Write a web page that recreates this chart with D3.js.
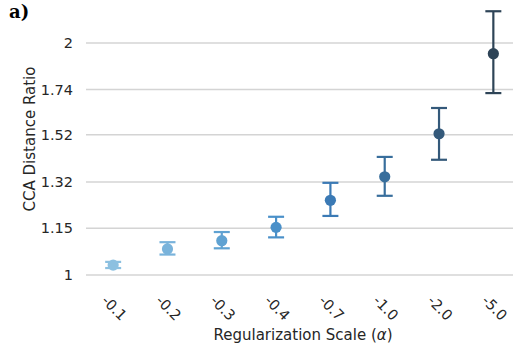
<!DOCTYPE html>
<html>
<head>
<meta charset="utf-8">
<script src="https://cdn.jsdelivr.net/npm/d3@7"></script>
<style>
  body { margin: 0; background: #fff; }
  svg { display: block; font-family: "DejaVu Sans", sans-serif; }
</style>
</head>
<body>
<div id="chart"></div>
<script>
// datos
var categorias = ["-0.1", "-0.2", "-0.3", "-0.4", "-0.7", "-1.0", "-2.0", "-5.0"];
var medias     = [1.030, 1.081, 1.108, 1.153, 1.250, 1.341, 1.525, 1.937];
var inferior   = [1.021, 1.063, 1.083, 1.119, 1.193, 1.267, 1.411, 1.722];
var superior   = [1.040, 1.103, 1.137, 1.190, 1.317, 1.423, 1.647, 2.199];
var colores    = ["#8cc0e0", "#79b3db", "#5fa2d2", "#4a90c9", "#3b7ab5", "#386e9c", "#34597a", "#2e4457"];
var yTicks     = [1, 1.15, 1.32, 1.52, 1.74, 2];

var w = 513, h = 348;
var svg = d3.select("#chart").append("svg")
    .attr("width", w).attr("height", h);

// escalas
var x = d3.scalePoint()
    .domain(categorias)
    .range([86, 520.5])
    .padding(0.5);

var y = d3.scaleLog().base(2)
    .domain([1, 2])
    .range([275, 43]);

// rejilla horizontal
svg.append("g").selectAll("line")
    .data(yTicks).enter().append("line")
    .attr("x1", 86).attr("x2", 520)
    .attr("y1", function(d) { return y(d); })
    .attr("y2", function(d) { return y(d); })
    .attr("stroke", "#d4d4d4")
    .attr("stroke-width", 1.5);

// eje y
var yAxis = svg.append("g")
    .attr("transform", "translate(86,0)")
    .call(d3.axisLeft(y).tickValues(yTicks).tickFormat(function(d) { return String(d); }).tickSize(0).tickPadding(13));
yAxis.select(".domain").remove();
yAxis.selectAll("text")
    .attr("font-size", 14.5)
    .attr("font-family", "DejaVu Sans")
    .attr("fill", "#262626");

// eje x
var xAxis = svg.append("g")
    .attr("transform", "translate(0,283)")
    .call(d3.axisBottom(x).tickSize(0).tickPadding(0));
xAxis.select(".domain").remove();
xAxis.selectAll("text")
    .attr("font-size", 14.5)
    .attr("font-family", "DejaVu Sans")
    .attr("fill", "#262626")
    .attr("y", 0).attr("dy", "0.35em")
    .attr("text-anchor", "middle")
    .attr("transform", "translate(0.7,25) rotate(45)");

// titulos de ejes
svg.append("text")
    .attr("x", 303).attr("y", 340)
    .attr("text-anchor", "middle")
    .attr("font-size", 15)
    .attr("fill", "#262626")
    .html("Regularization Scale (<tspan font-style='italic'>α</tspan>)");

svg.append("text")
    .attr("transform", "translate(35,139) rotate(-90)")
    .attr("text-anchor", "middle")
    .attr("font-size", 15)
    .attr("fill", "#262626")
    .text("CCA Distance Ratio");

// etiqueta del panel
svg.append("text")
    .attr("x", 9).attr("y", 18)
    .attr("font-family", "DejaVu Serif, serif")
    .attr("font-weight", "bold")
    .attr("font-size", 18)
    .attr("fill", "#000")
    .text("a)");

// barras de error y puntos
var puntos = svg.append("g").selectAll("g")
    .data(categorias).enter().append("g");

puntos.append("line")
    .attr("x1", function(d) { return x(d); })
    .attr("x2", function(d) { return x(d); })
    .attr("y1", function(d, i) { return y(inferior[i]); })
    .attr("y2", function(d, i) { return y(superior[i]); })
    .attr("stroke", function(d, i) { return colores[i]; })
    .attr("stroke-width", 2.2);

[inferior, superior].forEach(function(arr) {
  puntos.append("line")
      .attr("x1", function(d) { return x(d) - 8; })
      .attr("x2", function(d) { return x(d) + 8; })
      .attr("y1", function(d, i) { return y(arr[i]); })
      .attr("y2", function(d, i) { return y(arr[i]); })
      .attr("stroke", function(d, i) { return colores[i]; })
      .attr("stroke-width", 2.2);
});

puntos.append("circle")
    .attr("cx", function(d) { return x(d); })
    .attr("cy", function(d, i) { return y(medias[i]); })
    .attr("r", 5.6)
    .attr("fill", function(d, i) { return colores[i]; });
</script>
</body>
</html>
